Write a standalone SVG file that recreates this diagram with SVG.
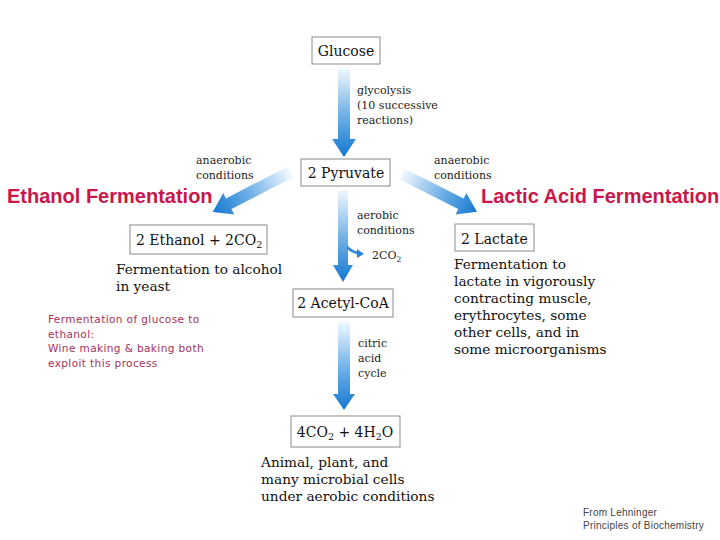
<svg xmlns="http://www.w3.org/2000/svg" width="720" height="540" viewBox="0 0 720 540">
<defs>
<linearGradient id="g" x1="0" y1="0" x2="0" y2="1">
<stop offset="0" stop-color="#f2f8fd"/>
<stop offset="0.55" stop-color="#6aaee6"/>
<stop offset="1" stop-color="#1577cf"/>
</linearGradient>
</defs>
<style>
.box{fill:#fff;stroke:#8a8a8a;stroke-width:1}
.bt{font-family:"DejaVu Serif",serif;font-size:14px;fill:#111}
.lt{font-family:"DejaVu Serif",serif;font-size:13.7px;fill:#111}
.sm{font-family:"DejaVu Serif",serif;font-size:11px;fill:#222}
.red{font-family:"Liberation Sans",Arial,sans-serif;font-weight:bold;font-size:20px;fill:#c8174a}
.pink{font-family:"DejaVu Sans",sans-serif;font-size:10.5px;fill:#a8305c;letter-spacing:0.4px}
.foot{font-family:"Liberation Sans",sans-serif;font-size:10px;fill:#444;letter-spacing:0.25px}
.arr{fill:url(#g)}
</style>
<rect width="720" height="540" fill="#fff"/>
<g id="connectors">
<path class="arr" transform="translate(344,68)" d="M-6,0 H6 V71 H12 L0,89 L-12,71 H-6 Z"/>
<path class="arr" transform="translate(290,172) rotate(62.6)" d="M-6,0 H6 V69 H12 L0,87 L-12,69 H-6 Z"/>
<path class="arr" transform="translate(402,174) rotate(-63.2)" d="M-6,0 H6 V66 H12 L0,84 L-12,66 H-6 Z"/>
<path class="arr" transform="translate(343,190)" d="M-5,0 H5 V75 H10 L0,92 L-10,75 H-5 Z"/>
<path d="M347,247 Q352,252 358,253" fill="none" stroke="#3a8fd8" stroke-width="3"/>
<path d="M357,249 L364,254 L357,258 Z" fill="#2a85d6"/>
<path class="arr" transform="translate(344,322)" d="M-6,0 H6 V72 H11 L0,88 L-11,72 H-6 Z"/>
</g>
<g id="glucose">
<rect class="box" x="312" y="37" width="68" height="27"/>
<text class="bt" x="346" y="56" text-anchor="middle">Glucose</text>
</g>
<g id="glycolysis-label">
<text class="sm" x="357" y="94">glycolysis</text>
<text class="sm" x="357" y="109">(10 successive</text>
<text class="sm" x="357" y="124">reactions)</text>
</g>
<g id="pyruvate">
<rect class="box" x="301" y="159" width="89" height="27"/>
<text class="bt" x="346" y="178" text-anchor="middle">2 Pyruvate</text>
</g>
<g id="anaerobic-left">
<text class="sm" x="196" y="164">anaerobic</text>
<text class="sm" x="196" y="179">conditions</text>
</g>
<g id="anaerobic-right">
<text class="sm" x="434" y="164">anaerobic</text>
<text class="sm" x="434" y="179">conditions</text>
</g>
<g id="ethanol-title"><text class="red" x="7" y="203">Ethanol Fermentation</text></g>
<g id="lactic-title"><text class="red" x="481" y="203">Lactic Acid Fermentation</text></g>
<g id="ethanol">
<rect class="box" x="130" y="225" width="137" height="29"/>
<text class="bt" x="136" y="245">2 Ethanol + 2CO<tspan font-size="9.5" dy="3">2</tspan></text>
</g>
<g id="ethanol-desc">
<text class="lt" x="116" y="274">Fermentation to alcohol</text>
<text class="lt" x="116" y="291">in yeast</text>
</g>
<g id="lactate">
<rect class="box" x="455" y="224" width="79" height="27"/>
<text class="bt" x="461" y="244">2 Lactate</text>
</g>
<g id="lactate-desc">
<text class="lt" x="454" y="269">Fermentation to</text>
<text class="lt" x="454" y="286">lactate in vigorously</text>
<text class="lt" x="454" y="303">contracting muscle,</text>
<text class="lt" x="454" y="320">erythrocytes, some</text>
<text class="lt" x="454" y="337">other cells, and in</text>
<text class="lt" x="454" y="354">some microorganisms</text>
</g>
<g id="aerobic-label">
<text class="sm" x="357" y="219">aerobic</text>
<text class="sm" x="357" y="234">conditions</text>
<text class="sm" x="372" y="259">2CO<tspan font-size="7.5" dy="3">2</tspan></text>
</g>
<g id="acetylcoa">
<rect class="box" x="293" y="289" width="100" height="28"/>
<text class="bt" x="343" y="308" text-anchor="middle">2 Acetyl-CoA</text>
</g>
<g id="citric-label">
<text class="sm" x="358" y="347">citric</text>
<text class="sm" x="358" y="362">acid</text>
<text class="sm" x="358" y="377">cycle</text>
</g>
<g id="co2h2o">
<rect class="box" x="291" y="416" width="109" height="31"/>
<text class="bt" x="345" y="437" text-anchor="middle">4CO<tspan font-size="9.5" dy="3">2</tspan><tspan dy="-3"> + 4H</tspan><tspan font-size="9.5" dy="3">2</tspan><tspan dy="-3">O</tspan></text>
</g>
<g id="aerobic-desc">
<text class="lt" x="261" y="467">Animal, plant, and</text>
<text class="lt" x="261" y="484">many microbial cells</text>
<text class="lt" x="261" y="501">under aerobic conditions</text>
</g>
<g id="note">
<text class="pink" x="48" y="323">Fermentation of glucose to</text>
<text class="pink" x="48" y="338">ethanol:</text>
<text class="pink" x="48" y="352">Wine making &amp; baking  both</text>
<text class="pink" x="48" y="367">exploit this process</text>
</g>
<g id="source">
<text class="foot" x="583" y="516">From Lehninger</text>
<text class="foot" x="583" y="529">Principles of Biochemistry</text>
</g>
</svg>
